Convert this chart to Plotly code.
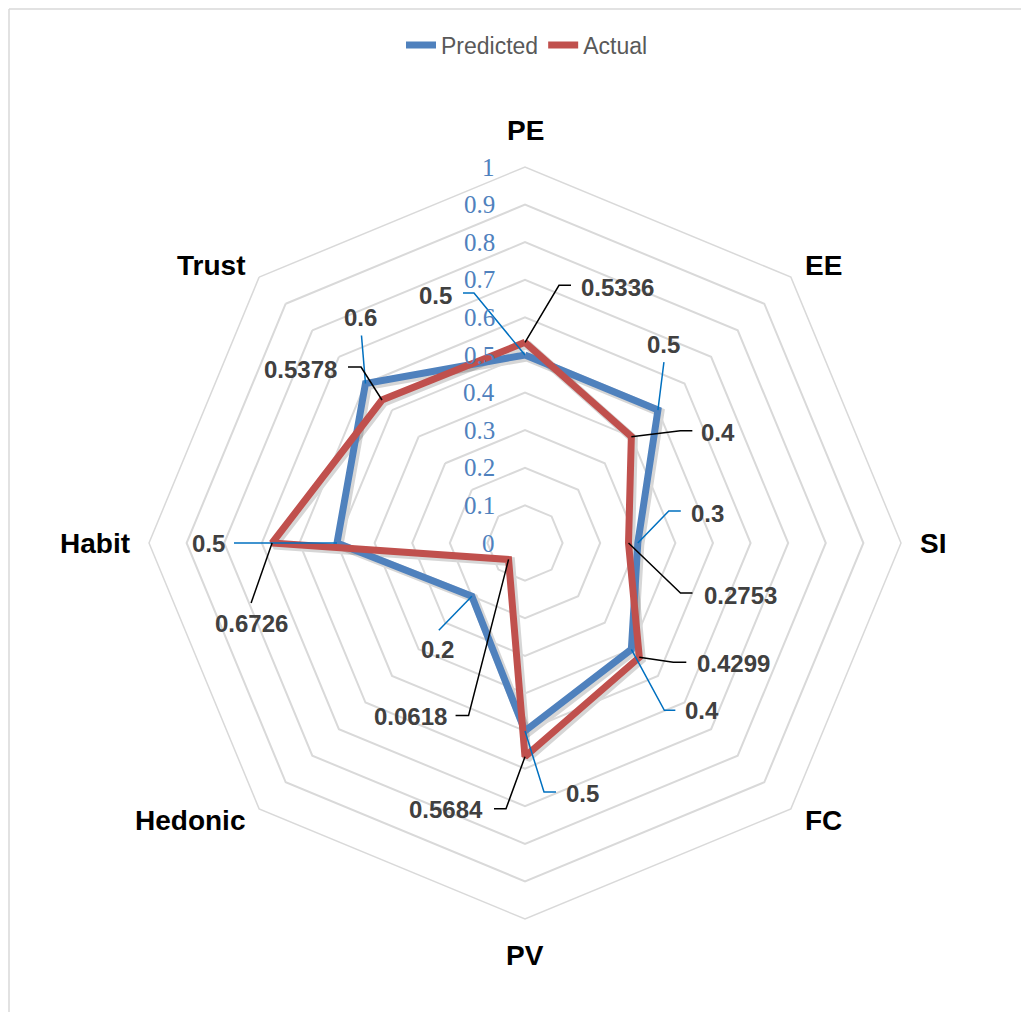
import numpy as np
import plotly.graph_objects as go

# ---------------- data ----------------
categories = ["PE", "EE", "SI", "FC", "PV", "Hedonic", "Habit", "Trust"]
predicted = [0.5, 0.5, 0.3, 0.4, 0.5, 0.2, 0.5, 0.6]
actual = [0.5336, 0.4, 0.2753, 0.4299, 0.5684, 0.0618, 0.6726, 0.5378]
predicted_text = ["0.5", "0.5", "0.3", "0.4", "0.5", "0.2", "0.5", "0.6"]
actual_text = ["0.5336", "0.4", "0.2753", "0.4299", "0.5684", "0.0618", "0.6726", "0.5378"]
radial_ticks = [0, 0.1, 0.2, 0.3, 0.4, 0.5, 0.6, 0.7, 0.8, 0.9, 1.0]
radial_tick_labels = ["0", "0.1", "0.2", "0.3", "0.4", "0.5", "0.6", "0.7", "0.8", "0.9", "1"]

# ---------------- layout constants (pixels, relative to the figure div) ----------------
W, H = 1029, 1012
OFF = 8                      # page body margin
CX, CY, R = 525 - OFF, 543 - OFF, 376
SHADOW_DX, SHADOW_DY = 2, 2
BLUE, RED = "#4F81BD", "#C0504D"
SHADOW = "rgba(0,0,0,0.16)"
GRID = "#D9D9D9"
LEADER_BLUE = "#0070C0"
LABEL_COLOR = "#404040"
SANS = "Liberation Sans, Arial, sans-serif"
SERIF = "Liberation Serif, Times New Roman, serif"

# leader line placement for each data label: (elbow, end, label position, xanchor) offsets in px from point
pred_place = [
    ((-51, -62), (-62, -62), (-71, -60), "right"),
    (None, (6, -48), (6, -66), "center"),
    ((31, -32), (43, -32), (51, -30), "left"),
    ((33, 61), (44, 61), (52, 61), "left"),
    ((19, 61), (31, 61), (39, 62), "left"),
    (None, (-33, 34), (-34, 53), "center"),
    (None, (-103, 0), (-110, 0), "right"),
    (None, (-4, -48), (-5, -66), "center"),
]
act_place = [
    ((34, -57), (46, -57), (54, -55), "left"),
    ((49, -6), (61, -6), (68, -4), "left"),
    ((52, 50), (64, 50), (73, 52), "left"),
    ((34, 5), (47, 5), (56, 6), "left"),
    ((-19, 52), (-31, 52), (-40, 53), "right"),
    ((-40, 156), (-53, 156), (-60, 157), "right"),
    (None, (-21, 60), (-21, 80), "center"),
    ((-21, -33), (-34, -33), (-43, -31), "right"),
]

n = len(categories)
angles = np.deg2rad(90 - 360.0 / n * np.arange(n))


def domain(cx, cy):
    return dict(x=[(cx - R) / W, (cx + R) / W], y=[1 - (cy + R) / H, 1 - (cy - R) / H])


fig = go.Figure()
theta = categories + categories[:1]

# soft drop shadows (subplot "polar", offset by a couple of pixels)
for vals in (predicted, actual):
    fig.add_trace(go.Scatterpolar(
        r=vals + vals[:1], theta=theta, subplot="polar", mode="lines",
        line=dict(color=SHADOW, width=9), showlegend=False, hoverinfo="skip"))

# main series (subplot "polar2", drawn above the shadows)
fig.add_trace(go.Scatterpolar(
    r=predicted + predicted[:1], theta=theta, subplot="polar2",
    mode="lines", name="Predicted", line=dict(color=BLUE, width=7),
    hoverinfo="skip"))
fig.add_trace(go.Scatterpolar(
    r=actual + actual[:1], theta=theta, subplot="polar2",
    mode="lines", name="Actual", line=dict(color=RED, width=7),
    hoverinfo="skip"))

# invisible cartesian overlay spanning the whole figure, 1 unit = polar radius
xr = [(0 - CX) / R, (W - CX) / R]
yr = [(CY - H) / R, CY / R]
fig.add_trace(go.Scatter(x=xr, y=yr, mode="markers", marker=dict(opacity=0),
                         showlegend=False, hoverinfo="skip"))

shapes = []
annotations = []


def px(v):
    return v / R


for vals, texts, places, lcolor in [(predicted, predicted_text, pred_place, LEADER_BLUE),
                                     (actual, actual_text, act_place, "#000000")]:
    for i, (v, t, pl) in enumerate(zip(vals, texts, places)):
        x0 = v * np.cos(angles[i])
        y0 = v * np.sin(angles[i])
        elbow, end, lab, xa = pl
        pts = [(x0, y0)]
        if elbow is not None:
            pts.append((x0 + px(elbow[0]), y0 - px(elbow[1])))
        pts.append((x0 + px(end[0]), y0 - px(end[1])))
        path = "M " + " L ".join(f"{a:.5f},{b:.5f}" for a, b in pts)
        shapes.append(dict(type="path", path=path, xref="x", yref="y",
                           line=dict(color=lcolor, width=1.5), layer="above"))
        annotations.append(dict(x=x0 + px(lab[0]), y=y0 - px(lab[1]), xref="x", yref="y",
                                text=f"<b>{t}</b>", showarrow=False, xanchor=xa, yanchor="middle",
                                font=dict(family=SANS, size=24, color=LABEL_COLOR)))

# category labels
for i, c in enumerate(categories):
    ca, sa = np.cos(angles[i]), np.sin(angles[i])
    if abs(ca) < 1e-6:
        rr = 1.05
        xa = "center"
        ya = "bottom" if sa > 0 else "top"
    else:
        rr = 1.045
        xa = "left" if ca > 0 else "right"
        ya = "middle"
    annotations.append(dict(x=rr * ca, y=rr * sa, xref="x", yref="y", text=f"<b>{c}</b>",
                            showarrow=False, xanchor=xa, yanchor=ya,
                            font=dict(family=SANS, size=28, color="#000000")))

# radial tick labels along the PE axis
for v, t in zip(radial_ticks, radial_tick_labels):
    annotations.append(dict(x=px(-28), y=v, xref="x", yref="y", text=t, showarrow=False,
                            xanchor="right", yanchor="middle",
                            font=dict(family=SERIF, size=25, color=BLUE)))

# chart-area border (top and left edges visible)
bx, by = 1 / W, 1 - 1 / H
shapes.append(dict(type="line", xref="paper", yref="paper", x0=bx, x1=1.01, y0=by, y1=by,
                   line=dict(color=GRID, width=1.5)))
shapes.append(dict(type="line", xref="paper", yref="paper", x0=bx, x1=bx, y0=by, y1=-0.01,
                   line=dict(color=GRID, width=1.5)))

hidden_radial = dict(range=[0, 1], visible=False, showgrid=False, showline=False,
                     showticklabels=False, ticks="")
hidden_angular = dict(direction="clockwise", rotation=90, showticklabels=False, ticks="",
                      showgrid=False, showline=False)

fig.update_layout(
    width=W, height=H, autosize=False,
    margin=dict(l=0, r=0, t=0, b=0),
    paper_bgcolor="white", plot_bgcolor="rgba(0,0,0,0)",
    polar=dict(
        domain=domain(CX + SHADOW_DX, CY + SHADOW_DY),
        bgcolor="rgba(0,0,0,0)", gridshape="linear",
        radialaxis=hidden_radial, angularaxis=hidden_angular,
    ),
    polar2=dict(
        domain=domain(CX, CY),
        bgcolor="rgba(0,0,0,0)",
        gridshape="linear",
        radialaxis=dict(range=[0, 1], tickvals=radial_ticks, showticklabels=False, ticks="",
                        showline=False, showgrid=True, gridcolor=GRID, gridwidth=1.5),
        angularaxis=dict(direction="clockwise", rotation=90, showticklabels=False, ticks="",
                         showgrid=False, showline=True, linecolor=GRID, linewidth=1.5),
    ),
    xaxis=dict(domain=[0, 1], range=xr, visible=False, fixedrange=True),
    yaxis=dict(domain=[0, 1], range=yr, visible=False, fixedrange=True),
    legend=dict(orientation="h", x=(527 - OFF) / W, xanchor="center", y=1 - (45 - OFF) / H,
                yanchor="middle",
                font=dict(family=SANS, size=23, color="#595959"), bgcolor="rgba(0,0,0,0)",
                itemwidth=30),
    shapes=shapes,
    annotations=annotations,
    showlegend=True,
)

fig.write_html("out.html")
